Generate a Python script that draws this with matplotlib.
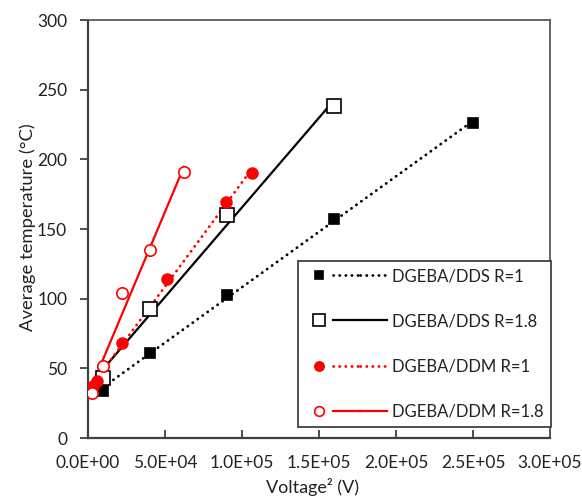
import numpy as np
import matplotlib
matplotlib.use("Agg")
import matplotlib.pyplot as plt
from matplotlib.lines import Line2D
from matplotlib.legend_handler import HandlerTuple

plt.rcParams["font.family"] = ["Lato", "DejaVu Sans"]

# data (x = voltage squared, y = average temperature)
dds1_x = [1.0e4, 4.0e4, 9.0e4, 1.6e5, 2.5e5]
dds1_y = [34, 61, 103, 157, 226]

dds18_x = [1.0e4, 4.0e4, 9.0e4, 1.6e5]
dds18_y = [43, 92.5, 160, 238]

ddm1_x = [3.2e3, 5.8e3, 2.2e4, 5.1e4, 8.96e4, 1.065e5]
ddm1_y = [37, 41, 68, 114, 169.5, 190]

ddm18_x = [2.6e3, 1.0e4, 2.2e4, 4.0e4, 6.23e4]
ddm18_y = [32, 52, 104, 135, 191]

labels = ["DGEBA/DDS R=1", "DGEBA/DDS R=1.8", "DGEBA/DDM R=1", "DGEBA/DDM R=1.8"]
x_ticks = [0, 5e4, 1e5, 1.5e5, 2e5, 2.5e5, 3e5]
x_tick_labels = ["0.0E+00", "5.0E+04", "1.0E+05", "1.5E+05", "2.0E+05", "2.5E+05", "3.0E+05"]
y_ticks = [0, 50, 100, 150, 200, 250, 300]

RED = "#ff0000"
DOT = (0, (0.1, 2.1))

series = [
    (dds1_x, dds1_y, "s", "k", "k", 7.5, DOT),
    (dds18_x, dds18_y, "s", "white", "k", 9.5, "-"),
    (ddm1_x, ddm1_y, "o", RED, RED, 7.8, DOT),
    (ddm18_x, ddm18_y, "o", "white", RED, 8.2, "-"),
]

fig = plt.figure(figsize=(5.82, 5.01), dpi=100)
ax = fig.add_axes([0.1512, 0.1257, 0.7938, 0.8343])

handles = []
for (xs, ys, mk, fc, ec, ms, ls) in series:
    xs = np.array(xs)
    ys = np.array(ys)
    # linear trendline over the data range
    k, b = np.polyfit(xs, ys, 1)
    xl = np.array([xs.min(), xs.max()])
    lw = 2.0 if ls == DOT else 1.6
    ax.plot(xl, k * xl + b, color=ec, lw=lw, linestyle=ls,
            dash_capstyle="round", zorder=2)
    ax.plot(xs, ys, linestyle="none", marker=mk, markersize=ms,
            markerfacecolor=fc, markeredgecolor=ec, markeredgewidth=1.2, zorder=3)
    h_marker = Line2D([], [], linestyle="none", marker=mk, markersize=ms * 0.85,
                      markerfacecolor=fc, markeredgecolor=ec, markeredgewidth=1.2)
    h_line = Line2D([], [], color=ec, lw=lw, linestyle=ls, dash_capstyle="round")
    handles.append((h_marker, h_line, h_line))

ax.set_xlim(0, 3e5)
ax.set_ylim(0, 300)
ax.set_xticks(x_ticks)
ax.set_xticklabels(x_tick_labels)
ax.set_yticks(y_ticks)

ax.tick_params(axis="x", direction="in", length=6, width=1.3, color="#404040",
               labelsize=12.5, pad=12, labelcolor="#222222")
ax.tick_params(axis="y", direction="out", length=6, width=1.3, color="#404040",
               labelsize=12.5, pad=9, labelcolor="#222222")

for side in ["left", "bottom"]:
    ax.spines[side].set_color("#404040")
    ax.spines[side].set_linewidth(1.6)
for side in ["top", "right"]:
    ax.spines[side].set_color("#595959")
    ax.spines[side].set_linewidth(1.3)

ax.set_xlabel("Voltage² (V)", fontsize=13, color="#222222")
ax.xaxis.set_label_coords(0.485, -0.095)
ax.set_ylabel("Average temperature (°C)", fontsize=13.3, color="#222222")
ax.yaxis.set_label_coords(-0.113, 0.505)

leg = ax.legend(handles, labels, handler_map={tuple: HandlerTuple(ndivide=3, pad=0)},
                loc="lower right", bbox_to_anchor=(1.002, 0.026), borderaxespad=0,
                fontsize=12, handlelength=4.85, handletextpad=0.3, labelspacing=1.75,
                borderpad=0.45, fancybox=False, framealpha=1)
leg.get_frame().set_edgecolor("#404040")
leg.get_frame().set_linewidth(1.3)
for t in leg.get_texts():
    t.set_color("#222222")

fig.savefig("out.png", dpi=100)
